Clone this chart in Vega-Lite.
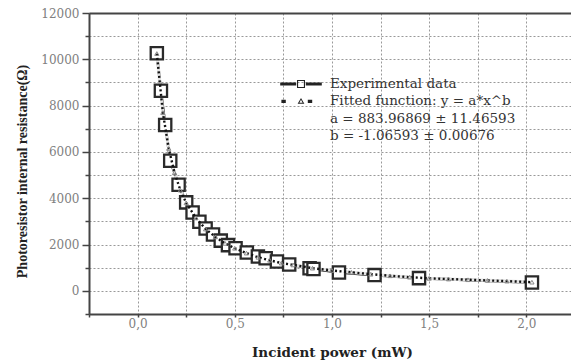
{
  "$schema": "https://vega.github.io/schema/vega-lite/v6.json",
  "width": 482,
  "height": 301,
  "autosize": {"type": "none"},
  "padding": {"left": 89, "top": 13, "right": 0, "bottom": 50},
  "background": "white",
  "config": {"view": {"stroke": null}},
  "datasets": {
    "exp": [
      {"x": 0.099, "y": 10260, "series": "Experimental data"},
      {"x": 0.120, "y": 8640, "series": "Experimental data"},
      {"x": 0.142, "y": 7160, "series": "Experimental data"},
      {"x": 0.168, "y": 5620, "series": "Experimental data"},
      {"x": 0.211, "y": 4580, "series": "Experimental data"},
      {"x": 0.250, "y": 3820, "series": "Experimental data"},
      {"x": 0.283, "y": 3380, "series": "Experimental data"},
      {"x": 0.318, "y": 2980, "series": "Experimental data"},
      {"x": 0.350, "y": 2690, "series": "Experimental data"},
      {"x": 0.388, "y": 2430, "series": "Experimental data"},
      {"x": 0.428, "y": 2170, "series": "Experimental data"},
      {"x": 0.465, "y": 1975, "series": "Experimental data"},
      {"x": 0.504, "y": 1840, "series": "Experimental data"},
      {"x": 0.562, "y": 1655, "series": "Experimental data"},
      {"x": 0.619, "y": 1480, "series": "Experimental data"},
      {"x": 0.659, "y": 1410, "series": "Experimental data"},
      {"x": 0.717, "y": 1265, "series": "Experimental data"},
      {"x": 0.780, "y": 1140, "series": "Experimental data"},
      {"x": 0.885, "y": 975, "series": "Experimental data"},
      {"x": 0.905, "y": 945, "series": "Experimental data"},
      {"x": 1.036, "y": 795, "series": "Experimental data"},
      {"x": 1.219, "y": 680, "series": "Experimental data"},
      {"x": 1.448, "y": 550, "series": "Experimental data"},
      {"x": 2.029, "y": 360, "series": "Experimental data"}
    ],
    "fit": [
      {"x": 0.099, "y": 10250, "series": "Fitted function: y = a*x^b"},
      {"x": 0.130, "y": 7700, "series": "Fitted function: y = a*x^b"},
      {"x": 0.160, "y": 6150, "series": "Fitted function: y = a*x^b"},
      {"x": 0.190, "y": 5100, "series": "Fitted function: y = a*x^b"},
      {"x": 0.220, "y": 4350, "series": "Fitted function: y = a*x^b"},
      {"x": 0.250, "y": 3800, "series": "Fitted function: y = a*x^b"},
      {"x": 0.300, "y": 3150, "series": "Fitted function: y = a*x^b"},
      {"x": 0.350, "y": 2670, "series": "Fitted function: y = a*x^b"},
      {"x": 0.400, "y": 2330, "series": "Fitted function: y = a*x^b"},
      {"x": 0.450, "y": 2050, "series": "Fitted function: y = a*x^b"},
      {"x": 0.500, "y": 1840, "series": "Fitted function: y = a*x^b"},
      {"x": 0.560, "y": 1630, "series": "Fitted function: y = a*x^b"},
      {"x": 0.620, "y": 1450, "series": "Fitted function: y = a*x^b"},
      {"x": 0.680, "y": 1320, "series": "Fitted function: y = a*x^b"},
      {"x": 0.740, "y": 1200, "series": "Fitted function: y = a*x^b"},
      {"x": 0.800, "y": 1120, "series": "Fitted function: y = a*x^b"},
      {"x": 0.900, "y": 980, "series": "Fitted function: y = a*x^b"},
      {"x": 1.000, "y": 880, "series": "Fitted function: y = a*x^b"},
      {"x": 1.100, "y": 800, "series": "Fitted function: y = a*x^b"},
      {"x": 1.200, "y": 720, "series": "Fitted function: y = a*x^b"},
      {"x": 1.300, "y": 650, "series": "Fitted function: y = a*x^b"},
      {"x": 1.400, "y": 590, "series": "Fitted function: y = a*x^b"},
      {"x": 1.500, "y": 540, "series": "Fitted function: y = a*x^b"},
      {"x": 1.600, "y": 510, "series": "Fitted function: y = a*x^b"},
      {"x": 1.700, "y": 480, "series": "Fitted function: y = a*x^b"},
      {"x": 1.800, "y": 450, "series": "Fitted function: y = a*x^b"},
      {"x": 1.900, "y": 420, "series": "Fitted function: y = a*x^b"},
      {"x": 2.029, "y": 375, "series": "Fitted function: y = a*x^b"}
    ]
  },
  "encoding": {
    "x": {
      "field": "x", "type": "quantitative",
      "scale": {"domain": [-0.25, 2.23], "nice": false, "zero": false}
    },
    "y": {
      "field": "y", "type": "quantitative",
      "scale": {"domain": [-1000, 12000], "nice": false, "zero": false},
      "axis": {
        "values": [-1000, 0, 1000, 2000, 3000, 4000, 5000, 6000, 7000, 8000, 9000, 10000, 11000, 12000],
        "labelExpr": "datum.value >= 0 && datum.value % 2000 === 0 ? format(datum.value, 'd') : ''",
        "tickSize": {"condition": {"test": "datum.value % 2000 === 0", "value": 7}, "value": 4},
        "tickColor": "#444", "tickWidth": 1.5,
        "domainColor": "#444", "domainWidth": 2,
        "grid": true, "gridDash": [2, 2], "gridColor": "#999", "gridWidth": 1,
        "labelFont": "DejaVu Serif", "labelFontSize": 12, "labelColor": "#808080", "labelPadding": 3,
        "title": "Photoresistor internal resistance(Ω)",
        "titleFont": "Liberation Serif", "titleFontSize": 14, "titleFontWeight": "bold", "titleColor": "#222",
        "titleAngle": -90, "titleAlign": "center", "titleBaseline": "middle",
        "titleX": -67, "titleY": 158
      }
    }
  },
  "layer": [
    {
      "data": {"name": "exp"},
      "mark": {"type": "line", "color": "#111", "strokeWidth": 2.6},
      "encoding": {
        "x": {
          "field": "x", "type": "quantitative",
          "axis": {
            "values": [-0.25, 0, 0.25, 0.5, 0.75, 1, 1.25, 1.5, 1.75, 2],
            "labelExpr": "abs(datum.value*2 - round(datum.value*2)) < 0.001 && datum.value >= 0 ? replace(format(datum.value, '.1f'), '.', ',') : ''",
            "tickSize": 3, "tickColor": "#444", "tickWidth": 1.5,
            "domainColor": "#444", "domainWidth": 2,
            "grid": true, "gridDash": [2, 2], "gridColor": "#999", "gridWidth": 1,
            "labelFont": "DejaVu Serif", "labelFontSize": 12, "labelColor": "#808080", "labelPadding": 1.5,
            "title": "Incident power (mW)",
            "titleFont": "DejaVu Serif", "titleFontSize": 13.5, "titleFontWeight": "bold", "titleColor": "#222",
            "titleBaseline": "middle", "titleY": 38, "titleX": 243
          }
        }
      }
    },
    {
      "data": {"name": "fit"},
      "mark": {"type": "line", "color": "#e4e4e4", "strokeWidth": 3.2},
      "encoding": {"x": {"field": "x", "type": "quantitative", "axis": null}}
    },
    {
      "data": {"name": "exp"},
      "mark": {"type": "point", "shape": "square", "size": 150, "filled": false, "fill": "white", "fillOpacity": 1, "stroke": "#2a2a2a", "strokeWidth": 2.3, "opacity": 1},
      "encoding": {"x": {"field": "x", "type": "quantitative", "axis": null}}
    },
    {
      "data": {"name": "fit"},
      "mark": {"type": "line", "color": "#111", "strokeWidth": 2.4, "strokeDash": [2, 2.5]},
      "encoding": {"x": {"field": "x", "type": "quantitative", "axis": null}}
    },
    {
      "data": {"name": "fit"},
      "mark": {"type": "point", "shape": "triangle-up", "size": 18, "filled": false, "stroke": "#888", "strokeWidth": 1, "opacity": 1},
      "encoding": {
        "x": {
          "field": "x", "type": "quantitative",
          "axis": {"orient": "top", "labels": false, "ticks": false, "grid": false, "domain": true, "domainColor": "#444", "domainWidth": 2, "title": null}
        }
      }
    },
    {
      "data": {"name": "fit"},
      "transform": [{"filter": "false"}],
      "mark": {"type": "point", "filled": true, "color": "#222", "size": 256, "strokeWidth": 0, "opacity": 1},
      "encoding": {
        "x": {"field": "x", "type": "quantitative", "axis": null},
        "shape": {
          "field": "series", "type": "nominal",
          "scale": {
            "domain": ["Experimental data", "Fitted function: y = a*x^b", "a = 883.96869 ± 11.46593", "b = -1.06593 ± 0.00676"],
            "range": [
              "M-2.6,-0.19H-0.6V0.19H-2.6Z M0.6,-0.19H2.6V0.19H0.6Z M-0.5,-0.5H0.5V0.5H-0.5Z M-0.36,-0.36V0.36H0.36V-0.36Z",
              "M-2.45,-0.2H-1.9V0.2H-2.45Z M0.85,-0.2H1.4V0.2H0.85Z M0,-0.42L0.42,0.3H-0.42Z M0,-0.2L-0.2,0.16H0.2Z",
              "M0,0Z",
              "M0,0Z"
            ]
          },
          "legend": {
            "orient": "none", "legendX": 204, "legendY": 63,
            "title": null, "padding": 0,
            "symbolSize": 256, "labelOffset": 21, "rowPadding": 2.4,
            "symbolFillColor": "#222", "symbolStrokeWidth": 0, "symbolOpacity": 1,
            "labelFont": "DejaVu Serif", "labelFontSize": 13.5, "labelColor": "#333", "labelLimit": 400
          }
        }
      }
    }
  ],
  "resolve": {"axis": {"x": "independent"}, "scale": {"x": "shared"}}
}
